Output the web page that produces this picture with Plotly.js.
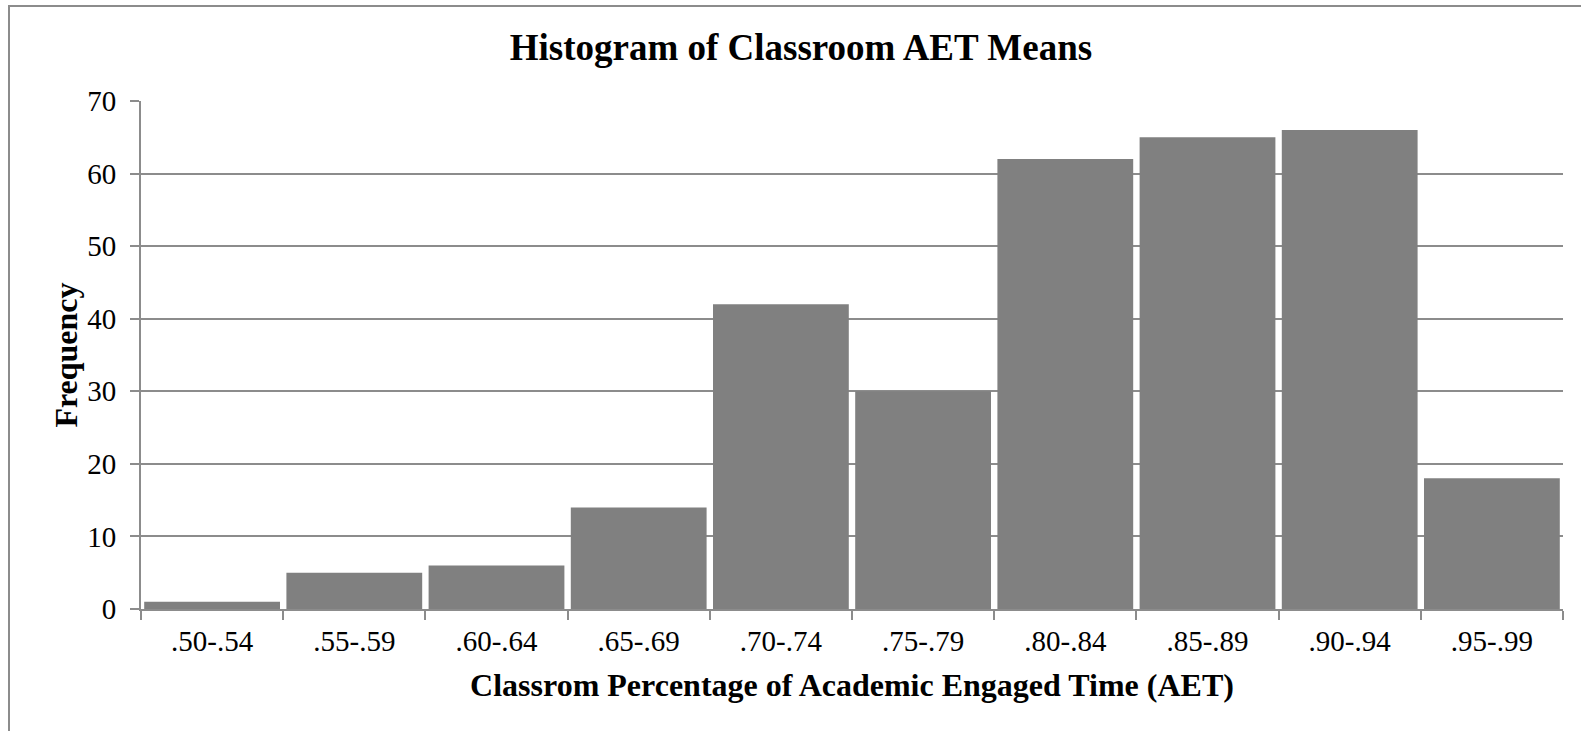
<!DOCTYPE html>
<html>
<head>
<meta charset="utf-8">
<script src="https://cdn.plot.ly/plotly-3.0.1.min.js"></script>
<style>
  html, body { margin: 0; padding: 0; background: #fff; }
  #frame { position: absolute; left: 8px; top: 5px; width: 1600px; height: 800px;
           border-left: 2px solid #8c8c8c; border-top: 2px solid #8c8c8c; pointer-events: none; }
  #chart { position: absolute; left: 0; top: 0; width: 1581px; height: 731px; }
</style>
</head>
<body>
<div id="chart"></div>
<div id="frame"></div>
<script>
const categories = [".50-.54", ".55-.59", ".60-.64", ".65-.69", ".70-.74", ".75-.79", ".80-.84", ".85-.89", ".90-.94", ".95-.99"];
const frequencies = [1, 5, 6, 14, 42, 30, 62, 65, 66, 18];
const yTicks = [0, 10, 20, 30, 40, 50, 60, 70];

const gridColor = "#8c8c8c";
const serif = "'Liberation Serif', 'Times New Roman', serif";

const trace = {
  type: "bar",
  x: categories,
  y: frequencies,
  marker: { color: "#808080", line: { width: 0 } },
  hoverinfo: "x+y"
};

const layout = {
  width: 1581,
  height: 731,
  margin: { l: 141, r: 18, t: 101, b: 122 },
  paper_bgcolor: "#ffffff",
  plot_bgcolor: "#ffffff",
  bargap: 0.045,
  showlegend: false,
  title: {
    text: "<b>Histogram of Classroom AET Means</b>",
    font: { family: serif, size: 37, color: "#000" },
    x: 0.5066, xanchor: "center",
    y: 0.935, yanchor: "middle", yref: "container"
  },
  xaxis: {
    type: "category",
    tickson: "boundaries",
    ticks: "outside",
    ticklen: 9,
    tickwidth: 2,
    tickcolor: gridColor,
    showline: true,
    linecolor: gridColor,
    linewidth: 2,
    showgrid: false,
    tickfont: { family: serif, size: 29, color: "#000" },
    ticklabelstandoff: 5,
    title: {
      text: "<b>Classrom Percentage of Academic Engaged Time (AET)</b>",
      font: { family: serif, size: 32, color: "#000" },
      standoff: 18
    },
    automargin: false,
    fixedrange: true
  },
  yaxis: {
    range: [0, 70],
    tickvals: yTicks,
    ticktext: yTicks.map(String),
    ticks: "outside",
    ticklen: 9,
    tickwidth: 2,
    tickcolor: gridColor,
    showline: true,
    linecolor: gridColor,
    linewidth: 2,
    showgrid: true,
    gridcolor: gridColor,
    gridwidth: 2,
    zeroline: false,
    tickfont: { family: serif, size: 29, color: "#000" },
    ticklabelstandoff: 8,
    title: {
      text: "<b>Frequency</b>",
      font: { family: serif, size: 32, color: "#000" },
      standoff: 0
    },
    automargin: false,
    fixedrange: true
  }
};

Plotly.newPlot("chart", [trace], layout, { displayModeBar: false, staticPlot: true });
</script>
</body>
</html>
